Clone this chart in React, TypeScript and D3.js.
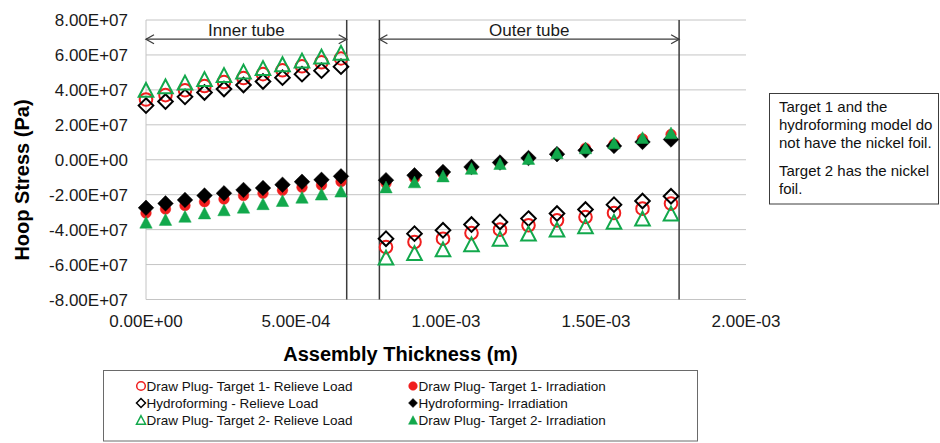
import React from "react";
import * as d3 from "d3";

// ---------- data ----------
const innerX = [0, 6.5e-5, 1.3e-4, 1.95e-4, 2.6e-4, 3.25e-4, 3.9e-4, 4.55e-4, 5.2e-4, 5.85e-4, 6.5e-4];
const outerX = [8.0e-4, 8.95e-4, 9.9e-4, 1.085e-3, 1.18e-3, 1.275e-3, 1.37e-3, 1.465e-3, 1.56e-3, 1.655e-3, 1.75e-3];

// values in units of 1E7 Pa, inner tube then outer tube
const t1Relieve = [3.45, 3.7, 3.98, 4.22, 4.45, 4.68, 4.9, 5.12, 5.35, 5.58, 5.8,
  -5.0, -4.71, -4.52, -4.2, -4.0, -3.75, -3.47, -3.28, -3.05, -2.8, -2.51];
const t1Irradiation = [-3.05, -2.82, -2.62, -2.4, -2.25, -2.05, -1.92, -1.75, -1.57, -1.45, -1.25,
  -1.35, -1.05, -0.8, -0.5, -0.22, 0.08, 0.35, 0.66, 0.9, 1.2, 1.45];
const hydroRelieve = [3.1, 3.33, 3.6, 3.85, 4.05, 4.28, 4.48, 4.7, 4.9, 5.1, 5.33,
  -4.52, -4.23, -4.04, -3.71, -3.56, -3.37, -3.08, -2.85, -2.57, -2.36, -2.09];
const hydroIrradiation = [-2.75, -2.5, -2.3, -2.05, -1.92, -1.73, -1.62, -1.43, -1.26, -1.15, -0.95,
  -1.17, -0.89, -0.7, -0.41, -0.16, 0.1, 0.32, 0.54, 0.79, 1.02, 1.16];
const t2Relieve = [4.0, 4.2, 4.42, 4.62, 4.85, 5.05, 5.25, 5.47, 5.68, 5.9, 6.12,
  -5.6, -5.34, -5.13, -4.84, -4.52, -4.23, -4.0, -3.81, -3.56, -3.37, -3.08];
const t2Irradiation = [-3.58, -3.42, -3.24, -3.05, -2.87, -2.72, -2.52, -2.34, -2.15, -1.97, -1.8,
  -1.56, -1.27, -0.93, -0.5, -0.22, 0.07, 0.39, 0.68, 0.96, 1.27, 1.54];

const seriesNames = [
  "Draw Plug- Target 1- Relieve Load",
  "Draw Plug- Target 1- Irradiation",
  "Hydroforming - Relieve Load",
  "Hydroforming- Irradiation",
  "Draw Plug- Target 2- Relieve Load",
  "Draw Plug- Target 2- Irradiation",
];

const yTicks = [-8e7, -6e7, -4e7, -2e7, 0, 2e7, 4e7, 6e7, 8e7];
const yTickLabels = ["-8.00E+07", "-6.00E+07", "-4.00E+07", "-2.00E+07", "0.00E+00", "2.00E+07", "4.00E+07", "6.00E+07", "8.00E+07"];
const xTicks = [0, 5e-4, 1e-3, 1.5e-3, 2e-3];
const xTickLabels = ["0.00E+00", "5.00E-04", "1.00E-03", "1.50E-03", "2.00E-03"];

// region boundaries (m) and labels
const innerRegion = [0, 6.69e-4];
const outerRegion = [7.78e-4, 1.777e-3];
const regionLabels = ["Inner tube", "Outer tube"];
const arrowLevel = 6.9e7;

const noteLines1 = ["Target 1 and the", "hydroforming model do", "not have the nickel foil."];
const noteLines2 = ["Target 2 has the nickel", "foil."];

// ---------- styles ----------
const RED = "#f01e1e";
const GREEN = "#12a84c";
const BLACK = "#000000";
const FONT = "'Liberation Sans', Arial, Helvetica, sans-serif";

type Kind = "circle" | "diamond" | "triangle";

function markerPath(kind: Kind, s: number): string {
  // s = half width
  if (kind === "diamond") return `M0,${-s}L${s},0L0,${s}L${-s},0Z`;
  if (kind === "triangle") {
    const h = s * 0.95;
    return `M0,${-h}L${s},${h}L${-s},${h}Z`;
  }
  const p = d3.path();
  p.arc(0, 0, s, 0, Math.PI * 2);
  return p.toString();
}

const seriesDefs: { values: number[]; kind: Kind; color: string; filled: boolean; size: number; legendSize: number }[] = [
  { values: t1Relieve, kind: "circle", color: RED, filled: false, size: 6.3, legendSize: 4.3 },
  { values: t1Irradiation, kind: "circle", color: RED, filled: true, size: 5.3, legendSize: 4.3 },
  { values: hydroRelieve, kind: "diamond", color: BLACK, filled: false, size: 7.3, legendSize: 4.5 },
  { values: hydroIrradiation, kind: "diamond", color: BLACK, filled: true, size: 7.8, legendSize: 4.5 },
  { values: t2Relieve, kind: "triangle", color: GREEN, filled: false, size: 7.3, legendSize: 4.5 },
  { values: t2Irradiation, kind: "triangle", color: GREEN, filled: true, size: 6.2, legendSize: 4.5 },
];

export default function App() {
  const W = 940, H = 443;
  const x = d3.scaleLinear().domain([0, 2e-3]).range([146, 746]);
  const y = d3.scaleLinear().domain([-8e7, 8e7]).range([299.5, 20]);
  const allX = [...innerX, ...outerX];

  const arrowY = y(arrowLevel);
  const regions = [innerRegion, outerRegion];

  const arrowHead = (px: number, dir: number) =>
    `M${px + dir * 8},${arrowY - 4.5}L${px},${arrowY}L${px + dir * 8},${arrowY + 4.5}`;

  return (
    <svg width={W} height={H} style={{ position: "absolute", left: 0, top: 0, background: "#fff" }} fontFamily={FONT}>
      <rect x={0} y={0} width={W} height={H} fill="#fff" />
      {/* gridlines */}
      {yTicks.map((t) => (
        <line key={t} x1={x(0)} x2={x(2e-3)} y1={y(t)} y2={y(t)} stroke="#c4c4c4" strokeWidth={1} />
      ))}
      <line x1={x(0)} x2={x(0)} y1={y(8e7)} y2={y(-8e7)} stroke="#c4c4c4" strokeWidth={1} />
      {/* y tick labels */}
      {yTicks.map((t, i) => (
        <text key={t} x={128} y={y(t) + 6} textAnchor="end" fontSize={17} fill="#1a1a1a">{yTickLabels[i]}</text>
      ))}
      {/* x tick labels */}
      {xTicks.map((t, i) => (
        <text key={t} x={x(t)} y={327} textAnchor="middle" fontSize={17} fill="#1a1a1a">{xTickLabels[i]}</text>
      ))}
      {/* axis titles */}
      <text x={400.5} y={360.5} textAnchor="middle" fontSize={20} fontWeight="bold" fill="#000">Assembly Thickness (m)</text>
      <text transform={`translate(29,180) rotate(-90)`} textAnchor="middle" fontSize={20} fontWeight="bold" fill="#000">Hoop Stress (Pa)</text>

      {/* region boundary lines */}
      {[innerRegion[1], outerRegion[0], outerRegion[1]].map((b) => (
        <line key={b} x1={x(b)} x2={x(b)} y1={y(8e7)} y2={y(-8e7)} stroke="#3c3c3c" strokeWidth={1.5} />
      ))}
      {/* arrows */}
      {regions.map((r, i) => (
        <g key={i} stroke="#3c3c3c" strokeWidth={1.3} fill="none">
          <line x1={x(r[0])} x2={x(r[1])} y1={arrowY} y2={arrowY} />
          <path d={arrowHead(x(r[0]), 1)} />
          <path d={arrowHead(x(r[1]), -1)} />
        </g>
      ))}
      {regions.map((r, i) => (
        <text key={i} x={(x(r[0]) + x(r[1])) / 2} y={arrowY - 3} textAnchor="middle" fontSize={17} fill="#1a1a1a">{regionLabels[i]}</text>
      ))}

      {/* series */}
      {seriesDefs.map((s, si) => (
        <g key={si}>
          {s.values.map((v, i) => (
            <path
              key={i}
              d={markerPath(s.kind, s.size)}
              transform={`translate(${x(allX[i])},${y(v * 1e7)})`}
              fill={s.filled ? s.color : "none"}
              stroke={s.color}
              strokeWidth={s.filled ? 0.5 : 2}
            />
          ))}
        </g>
      ))}

      {/* note box */}
      <rect x={769.5} y={93.5} width={169} height={110.5} fill="#fff" stroke="#3c3c3c" strokeWidth={1} />
      {noteLines1.map((l, i) => (
        <text key={l} x={779} y={112 + i * 17.8} fontSize={15} fill="#111">{l}</text>
      ))}
      {noteLines2.map((l, i) => (
        <text key={l} x={779} y={176 + i * 17.8} fontSize={15} fill="#111">{l}</text>
      ))}

      {/* legend */}
      <rect x={103.5} y={370.5} width={594} height={70.5} fill="#fff" stroke="#6a6a6a" strokeWidth={1} />
      {seriesDefs.map((s, i) => {
        const col = i % 2;
        const row = Math.floor(i / 2);
        const mx = col === 0 ? 141 : 413;
        const cy = 386 + row * 17;
        return (
          <g key={i}>
            <path
              d={markerPath(s.kind, s.legendSize)}
              transform={`translate(${mx},${cy})`}
              fill={s.filled ? s.color : "none"}
              stroke={s.color}
              strokeWidth={s.filled ? 0.5 : 1.5}
            />
            <text x={mx + 5.5} y={cy + 5} fontSize={13.5} fill="#111">{seriesNames[i]}</text>
          </g>
        );
      })}
    </svg>
  );
}
